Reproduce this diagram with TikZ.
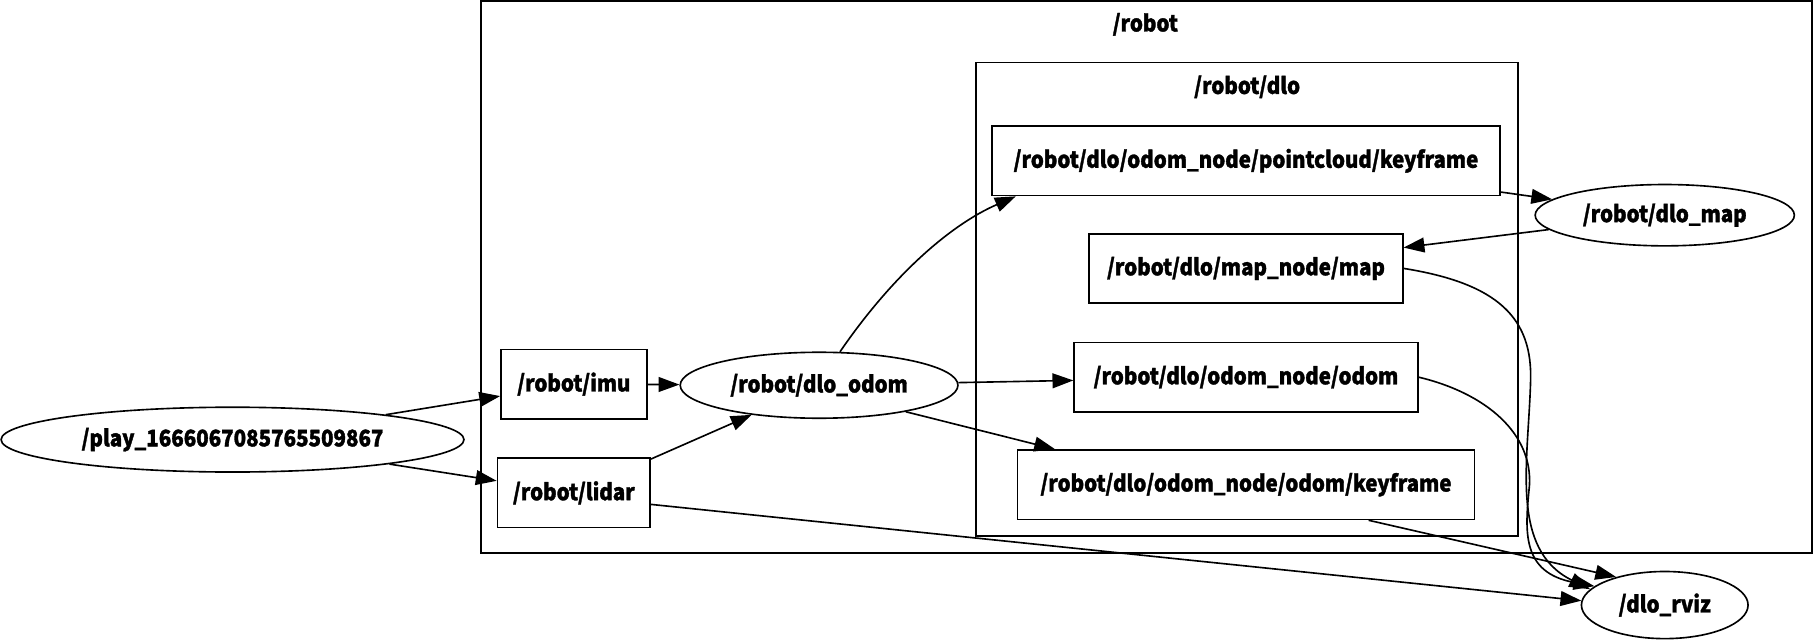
\documentclass[tikz,border=0pt]{standalone}
\usepackage{fontspec}
\setmainfont{Noto Sans CJK SC}[FakeStretch=0.9, BoldFeatures={FakeBold=1.5}]
\usepackage{tikz}
\usetikzlibrary{
  shapes.geometric,
  arrows.meta,
  positioning
}
\tikzset{
  topicbox/.style={
    draw=black, rectangle, line width=1pt,
    minimum height=1.5cm, inner sep=0pt,
    align=center, font=\fontsize{14}{16}\selectfont\bfseries
  },
  procnode/.style={
    draw=black, ellipse, line width=1pt, inner sep=0pt,
    align=center, font=\fontsize{14}{16}\selectfont\bfseries
  },
  clusterbox/.style={
    draw=black, rectangle, line width=1.1pt, inner sep=0pt
  },
  clustertitle/.style={
    font=\fontsize{14}{16}\selectfont\bfseries, inner sep=0pt
  },
  rosarrow/.style={
    -{Triangle[length=0.45cm, width=0.32cm]}, line width=1pt, draw=black
  }
}

\begin{document}
\begin{tikzpicture}[x=0.025cm, y=-0.025cm]
    \useasboundingbox (0,0) rectangle (1568,554);
    % clusters
    \node[clusterbox, minimum width=28.75cm, minimum height=11.925cm] (robot) at (991,239.5) {};
    \node[clustertitle] (robottitle) at (990,21) {/robot};
    \node[clusterbox, minimum width=11.7cm, minimum height=10.225cm] (dlo) at (1078,258.5) {};
    \node[clustertitle] (dlotitle) at (1078,75) {/robot/dlo};
    % nodes
    \node[procnode, minimum width=10cm, minimum height=1.4cm] (play) at (201,380) {/play\_1666067085765509867};
    \node[topicbox, minimum width=3.15cm] (imu) at (496,332) {/robot/imu};
    \node[topicbox, minimum width=3.3cm] (lidar) at (496,426) {/robot/lidar};
    \node[procnode, minimum width=6cm, minimum height=1.425cm] (odomnode) at (708,333) {/robot/dlo\_odom};
    \node[topicbox, minimum width=10.975cm] (cloudkf) at (1077,139) {/robot/dlo/odom\_node/pointcloud/keyframe};
    \node[topicbox, minimum width=6.775cm] (map) at (1077,232) {/robot/dlo/map\_node/map};
    \node[topicbox, minimum width=7.425cm] (odom) at (1077,326) {/robot/dlo/odom\_node/odom};
    \node[topicbox, minimum width=9.875cm] (odomkf) at (1077,419) {/robot/dlo/odom\_node/odom/keyframe};
    \node[procnode, minimum width=5.6cm, minimum height=1.325cm] (mapnode) at (1439,186) {/robot/dlo\_map};
    \node[procnode, minimum width=3.6cm, minimum height=1.45cm] (rviz) at (1439,523) {/dlo\_rviz};
    % edges
    \draw[rosarrow] (play) -- (imu);
    \draw[rosarrow] (play) -- (lidar);
    \draw[rosarrow] (imu) -- (odomnode);
    \draw[rosarrow] (lidar) -- (odomnode);
    \draw[rosarrow] (lidar.east |- 0,436) -- (rviz.177);
    \draw[rosarrow] (odomnode.58) .. controls (770,240) and (820,195) .. (cloudkf.south west -| 878,0);
    \draw[rosarrow] (odomnode) -- (odom);
    \draw[rosarrow] (odomnode.-17) -- (odomkf.north west -| 912,0);
    \draw[rosarrow] (cloudkf.east |- 0,166) -- (mapnode);
    \draw[rosarrow] (mapnode) -- (map.east |- 0,214);
    \draw[rosarrow] (map.east |- 0,232) .. controls (1295,245) and (1325,275) .. (1323,330)
        .. controls (1321,400) and (1305,475) .. (rviz.168);
    \draw[rosarrow] (odom.east |- 0,326) .. controls (1285,340) and (1325,375) .. (1322,420)
        .. controls (1318,460) and (1315,495) .. (rviz.165);
    \draw[rosarrow] (odomkf.south -| 1183,0) -- (rviz.150);
\end{tikzpicture}
\end{document}
